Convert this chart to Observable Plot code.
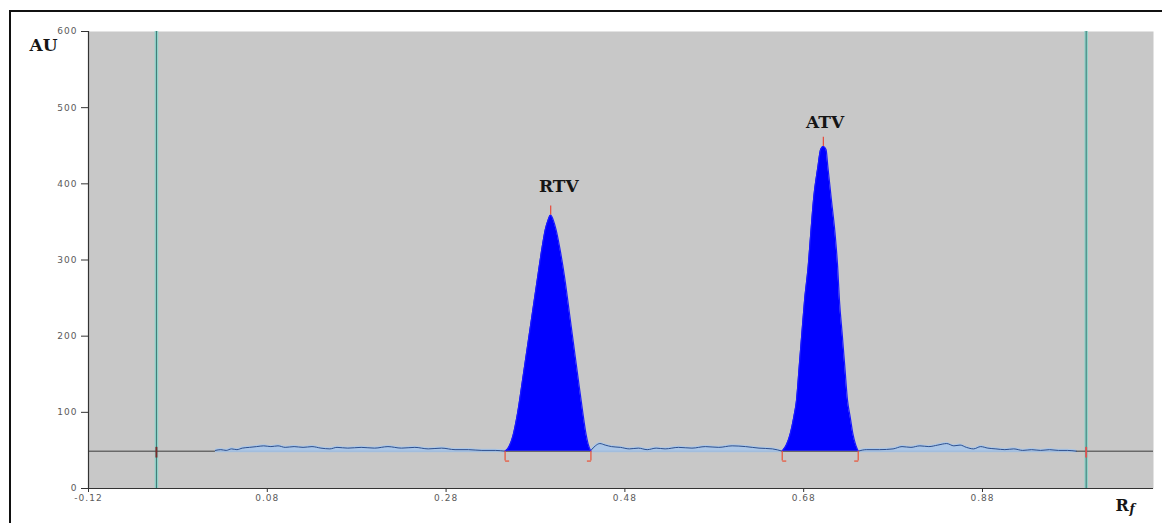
<!DOCTYPE html>
<html><head><meta charset="utf-8">
<script src="https://cdn.jsdelivr.net/npm/d3@7"></script>
<script src="https://cdn.jsdelivr.net/npm/@observablehq/plot@0.6"></script>
<style>
html,body{margin:0;padding:0;background:#fff;}
#wrap{position:relative;width:1162px;height:523px;overflow:hidden;}
#border{position:absolute;left:9px;top:10px;width:1200px;height:600px;border-left:2px solid #111;border-top:2px solid #111;pointer-events:none;}
g[aria-label="y-axis tick label"] text, g[aria-label="x-axis tick label"] text{letter-spacing:1px;}
</style>
</head><body>
<div id="wrap"><div id="border"></div></div>
<script>
// ---- data ----
const xTicks = [-0.12, 0.08, 0.28, 0.48, 0.68, 0.88];
const yTicks = [0, 100, 200, 300, 400, 500, 600];
const baselineAU = 49;
const markerRf = [-0.044, 0.996];          // vertical scan-limit lines

const rtvRf = [0.346, 0.350, 0.355, 0.360, 0.3655, 0.371, 0.3765, 0.382, 0.3875, 0.391, 0.394, 0.397, 0.400, 0.403, 0.407, 0.413, 0.418, 0.423, 0.428, 0.433, 0.436, 0.439, 0.442];
const rtvAU = [49, 54, 70, 99, 142, 186, 230, 274, 317, 340, 352, 359, 352, 340, 317, 274, 230, 186, 142, 99, 75, 58, 49];

const atvRf = [0.656, 0.661, 0.665, 0.669, 0.672, 0.675, 0.678, 0.681, 0.685, 0.688, 0.691, 0.696, 0.699, 0.702, 0.705, 0.707, 0.711, 0.715, 0.718, 0.720, 0.723, 0.726, 0.729, 0.732, 0.735, 0.738, 0.741];
const atvAU = [49, 58, 72, 94, 116, 160, 204, 247, 291, 336, 379, 423, 445, 449, 445, 423, 379, 336, 291, 247, 204, 160, 116, 94, 72, 58, 49];

const noiseRf = [0.022, 0.028, 0.034, 0.040, 0.046, 0.052, 0.060, 0.068, 0.076, 0.084, 0.092, 0.100, 0.110, 0.120, 0.130, 0.140, 0.150, 0.158, 0.170, 0.185, 0.200, 0.215, 0.230, 0.245, 0.260, 0.275, 0.290, 0.305, 0.320, 0.335, 0.346,
  NaN,
  0.442, 0.447, 0.452, 0.458, 0.465, 0.475, 0.485, 0.495, 0.505, 0.515, 0.525, 0.540, 0.555, 0.570, 0.585, 0.600, 0.615, 0.630, 0.645, 0.656,
  NaN,
  0.741, 0.750, 0.765, 0.780, 0.790, 0.800, 0.810, 0.820, 0.830, 0.840, 0.848, 0.855, 0.862, 0.870, 0.878, 0.886, 0.895, 0.905, 0.915, 0.925, 0.935, 0.945, 0.955, 0.965, 0.975, 0.985];
const noiseAU = [50, 51, 50, 52, 51, 53, 54, 55, 56, 55, 56, 54, 55, 54, 55, 53, 52, 54, 53, 54, 53, 55, 53, 54, 52, 53, 51, 51, 50, 50, 49,
  NaN,
  50, 56, 59, 57, 55, 54, 52, 53, 51, 53, 52, 54, 53, 55, 54, 56, 55, 53, 52, 49,
  NaN,
  49, 51, 51, 52, 55, 54, 56, 55, 57, 59, 56, 57, 54, 52, 55, 53, 52, 51, 52, 50, 51, 50, 51, 50, 50, 49];

const peakNames = ["RTV", "ATV"];
const peakApexRf = [0.397, 0.702];
const peakApexAU = [359, 449];
const peakStartRf = [0.346, 0.656];
const peakEndRf = [0.442, 0.741];
const labelRf = [0.406, 0.704];
const labelAU = [397, 480];

const yTitle = "AU";
const xTitleMain = "R";
const xTitleSub = "f";

// ---- tables ----
const rtv = rtvRf.map((rf, i) => ({rf, au: rtvAU[i]}));
const atv = atvRf.map((rf, i) => ({rf, au: atvAU[i]}));
const noise = noiseRf.map((rf, i) => ({rf, au: noiseAU[i]}));
const peaks = peakNames.map((name, i) => ({
  name, apexRf: peakApexRf[i], apexAU: peakApexAU[i],
  start: peakStartRf[i], end: peakEndRf[i], lx: labelRf[i], ly: labelAU[i]
}));

const serif = "'DejaVu Serif', serif";
const footLen = 0.0045, bracketLow = 36;
const smooth = "monotone-x";

const chart = Plot.plot({
  width: 1162, height: 523,
  marginLeft: 88, marginRight: 9, marginTop: 31, marginBottom: 35,
  x: {domain: [-0.12, 1.0713]},
  y: {domain: [0, 600]},
  style: {background: "transparent", fontFamily: "'DejaVu Sans', sans-serif", fontSize: "9px", overflow: "visible"},
  marks: [
    Plot.frame({fill: "#c8c8c8", stroke: null}),
    // scan-limit lines
    Plot.ruleX(markerRf, {stroke: "#8fd3c9", strokeWidth: 3.5}),
    Plot.ruleX(markerRf, {stroke: "#3f7774", strokeWidth: 1}),
    // baseline
    Plot.ruleY([baselineAU], {stroke: "#3c3c3c", strokeWidth: 1}),
    // noise trace
    Plot.areaY(noise, {x: "rf", y1: baselineAU - 2, y2: d => d.au + 1.5, fill: "#a9c6ea", fillOpacity: 0.9, curve: smooth}),
    Plot.line(noise, {x: "rf", y: "au", stroke: "#2d4f8e", strokeWidth: 1, curve: smooth}),
    // peaks
    Plot.areaY(rtv, {x: "rf", y1: baselineAU, y2: "au", fill: "#0000ff", curve: smooth}),
    Plot.line(rtv, {x: "rf", y: "au", stroke: "#1a1aff", strokeWidth: 1.2, curve: smooth}),
    Plot.areaY(atv, {x: "rf", y1: baselineAU, y2: "au", fill: "#0000ff", curve: smooth}),
    Plot.line(atv, {x: "rf", y: "au", stroke: "#1a1aff", strokeWidth: 1.2, curve: smooth}),
    // red markers
    Plot.ruleX(peaks, {x: "apexRf", y1: "apexAU", y2: d => d.apexAU + 12, stroke: "#e84a3a", strokeWidth: 1.2}),
    Plot.ruleX(peaks, {x: "start", y1: baselineAU, y2: bracketLow, stroke: "#e85a40", strokeWidth: 1.3}),
    Plot.ruleX(peaks, {x: "end", y1: baselineAU, y2: bracketLow, stroke: "#e85a40", strokeWidth: 1.3}),
    Plot.link(peaks, {x1: "start", x2: d => d.start + footLen, y1: bracketLow, y2: bracketLow, stroke: "#e85a40", strokeWidth: 1.3}),
    Plot.link(peaks, {x1: "end", x2: d => d.end - footLen, y1: bracketLow, y2: bracketLow, stroke: "#e85a40", strokeWidth: 1.3}),
    Plot.ruleX(markerRf, {y1: 40, y2: 54, stroke: (d, i) => i === 0 ? "#7a2a2a" : "#e05050", strokeWidth: 2}),
    // axes
    Plot.ruleX([-0.12], {stroke: "#333", strokeWidth: 1.2}),
    Plot.ruleY([0], {stroke: "#333", strokeWidth: 1.2}),
    Plot.axisY({ticks: yTicks, tickSize: 7, tickPadding: 4, label: null, color: "#5a5a5a", stroke: "#333"}),
    Plot.axisX({ticks: xTicks, tickSize: 4, tickPadding: 2, label: null, color: "#5a5a5a", stroke: "#333", tickFormat: d => d.toFixed(2)}),
    // labels
    Plot.text(peaks, {x: "lx", y: "ly", text: "name", fontFamily: serif, fontWeight: "bold", fontSize: 17, fill: "#151515"}),
    Plot.text([yTitle], {frameAnchor: "top-left", text: d => d, textAnchor: "start", lineAnchor: "middle", dx: -59, dy: 14, fontFamily: serif, fontWeight: "bold", fontSize: 17, fill: "#151515"}),
    Plot.text([xTitleMain], {frameAnchor: "bottom-right", text: d => d, textAnchor: "start", lineAnchor: "middle", dx: -38, dy: 17, fontFamily: serif, fontWeight: "bold", fontSize: 16, fill: "#151515"}),
    Plot.text([xTitleSub], {frameAnchor: "bottom-right", text: d => d, textAnchor: "start", lineAnchor: "middle", dx: -24, dy: 21, fontFamily: serif, fontWeight: "bold", fontStyle: "italic", fontSize: 12, fill: "#151515"})
  ]
});
document.getElementById("wrap").prepend(chart);
</script>
</body></html>
